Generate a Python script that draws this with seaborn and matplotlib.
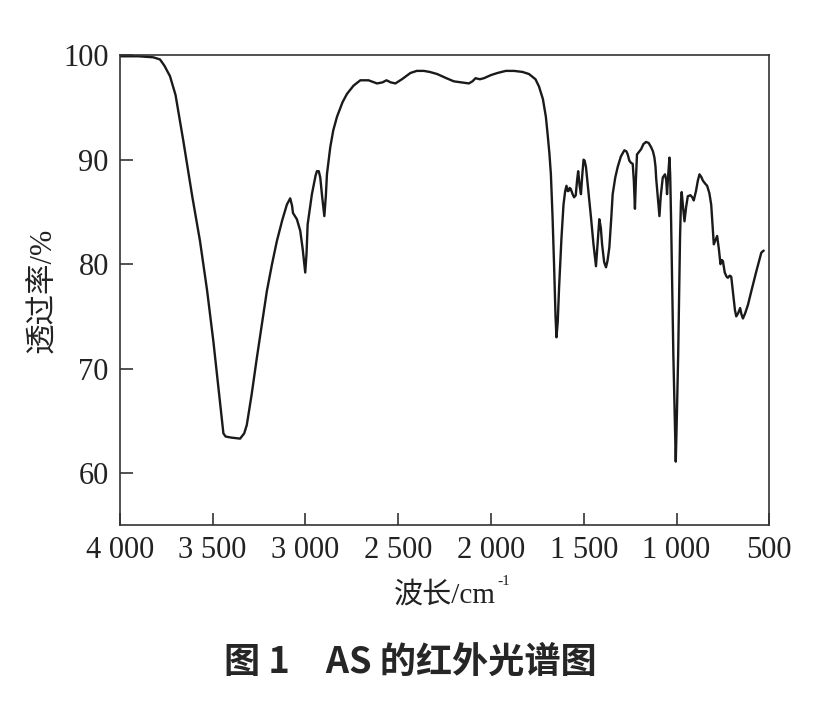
import numpy as np
import pandas as pd
import matplotlib.pyplot as plt
import seaborn as sns

# IR spectrum: wavenumber (cm-1) and transmittance (%)
wavenumber = [
    4000, 3900, 3820, 3784, 3760, 3730, 3700, 3658, 3610, 3568, 3530, 3496, 3465, 3442,
    3430, 3400, 3352, 3330, 3316, 3290, 3262, 3230, 3208, 3180, 3154, 3125, 3100, 3082,
    3072, 3067, 3046, 3028, 3015, 3001, 2994, 2988, 2965, 2945, 2938, 2928, 2920, 2910,
    2898, 2890, 2884, 2866, 2850, 2830, 2800, 2776, 2740, 2704, 2660, 2614, 2585, 2563,
    2540, 2515, 2480, 2434, 2400, 2362, 2330, 2290, 2240, 2200, 2160, 2119, 2100, 2083,
    2060, 2038, 2000, 1965, 1920, 1876, 1830, 1795, 1760, 1741, 1720, 1704, 1695, 1685,
    1677, 1668, 1660, 1652, 1647, 1640, 1633, 1620, 1609, 1600, 1593, 1587, 1582, 1576,
    1570, 1560, 1552, 1543, 1536, 1530, 1522, 1515, 1508, 1501, 1495, 1488, 1475, 1461,
    1448, 1434, 1425, 1416, 1408, 1401, 1390, 1380, 1372, 1362, 1352, 1344, 1330, 1317,
    1300, 1281, 1270, 1263, 1254, 1245, 1236, 1230, 1224, 1219, 1213, 1200, 1191, 1178,
    1164, 1150, 1137, 1127, 1119, 1113, 1110, 1100, 1092, 1085, 1074, 1062, 1055, 1051,
    1045, 1038, 1034, 1029, 1023, 1017, 1010, 1004, 998, 991, 985, 981, 976, 972,
    965, 957, 948, 939, 925, 915, 907, 895, 885, 876, 865, 858, 845, 835,
    823, 813, 806, 799, 790, 781, 772, 763, 756, 750, 740, 730, 723, 713,
    705, 695, 685, 678, 668, 657, 650, 642, 630, 615, 597, 570, 543, 530,
]
transmittance = [
    99.9, 99.9, 99.8, 99.6, 99.0, 98.0, 96.2, 91.8, 86.5, 82.2, 77.5, 72.6, 67.5, 63.8,
    63.5, 63.4, 63.3, 63.8, 64.6, 67.5, 71.0, 74.8, 77.4, 80.0, 82.2, 84.2, 85.7, 86.3,
    85.6, 84.9, 84.3, 83.2, 81.5, 79.2, 81.0, 83.8, 86.7, 88.5, 88.9, 88.9, 88.3, 86.5,
    84.6, 86.5, 88.6, 91.2, 92.8, 94.1, 95.5, 96.3, 97.1, 97.6, 97.6, 97.3, 97.4, 97.6,
    97.4, 97.3, 97.7, 98.3, 98.5, 98.5, 98.4, 98.2, 97.8, 97.5, 97.4, 97.3, 97.5, 97.8,
    97.7, 97.8, 98.1, 98.3, 98.5, 98.5, 98.4, 98.2, 97.7, 97.0, 95.8, 94.1, 92.5, 90.6,
    88.6, 84.5, 80.0, 75.0, 73.0, 74.5, 77.7, 82.5, 85.7, 87.0, 87.5, 87.0, 87.0, 87.3,
    87.2, 86.7, 86.4, 86.6, 88.0, 88.9, 87.5, 86.7, 88.5, 90.0, 89.9, 89.3, 87.0, 84.5,
    82.0, 79.8, 82.0, 84.3, 83.5, 81.9, 80.2, 79.7, 80.3, 81.6, 84.3, 86.7, 88.3, 89.3,
    90.3, 90.9, 90.8, 90.5, 89.9, 89.7, 89.6, 88.0, 85.3, 88.0, 90.5, 90.8, 91.0, 91.5,
    91.7, 91.6, 91.2, 90.8, 90.2, 89.3, 88.3, 86.3, 84.6, 86.5, 88.3, 88.6, 88.0, 86.7,
    88.5, 90.2, 88.5, 84.1, 78.0, 71.3, 66.0, 61.1, 65.5, 71.3, 78.0, 82.5, 86.0, 86.9,
    85.5, 84.1, 85.5, 86.5, 86.6, 86.4, 86.1, 87.0, 88.0, 88.6, 88.3, 88.0, 87.7, 87.5,
    86.8, 85.7, 83.8, 81.9, 82.3, 82.7, 81.5, 80.0, 80.4, 80.3, 79.2, 78.8, 78.7, 78.9,
    78.8, 77.2, 75.6, 75.0, 75.3, 75.8, 75.2, 74.8, 75.3, 76.1, 77.4, 79.3, 81.1, 81.3,
]

x_ticks = [4000, 3500, 3000, 2500, 2000, 1500, 1000, 500]
x_tick_labels = ['4 000', '3 500', '3 000', '2 500', '2 000', '1 500', '1 000', '500']
y_ticks = [60, 70, 80, 90, 100]

df = pd.DataFrame({'wavenumber': wavenumber, 'transmittance': transmittance})

sns.set_style('ticks')
plt.rcParams['font.family'] = ['Liberation Serif', 'Noto Sans CJK SC', 'DejaVu Sans']

fig = plt.figure(figsize=(8.21, 7.08), dpi=100)
ax = fig.add_axes([0.146, 0.258, 0.791, 0.664])

sns.lineplot(data=df, x='wavenumber', y='transmittance', sort=False,
             color='#1a1a1a', linewidth=1.7, ax=ax)

ax.set_xlim(4000, 500)
ax.set_ylim(55, 100)
ax.set_xticks(x_ticks)
ax.set_xticklabels(x_tick_labels)
ax.set_yticks(y_ticks)
ax.tick_params(direction='in', length=9, width=1.1, labelsize=22, colors='#222222', pad=8)

for side in ['top', 'right', 'bottom', 'left']:
    ax.spines[side].set_visible(True)
    ax.spines[side].set_linewidth(1.2)
    ax.spines[side].set_color('#333333')

# x label with a separate superscript so the CJK glyphs keep their font
ax.set_xlabel('波长/cm', fontsize=21, labelpad=12, color='#222222')
ax.annotate('-1', xy=(1, 1), xycoords=ax.xaxis.label, xytext=(1, 5),
            textcoords='offset points', ha='left', va='top', fontsize=11,
            color='#222222')
ax.set_ylabel('透过率/%', fontsize=22, labelpad=4, color='#222222')

fig.text(0.5, 1 - 662 / 708, '图 1　AS 的红外光谱图', ha='center', va='center',
         fontsize=26, fontweight='bold', family=['Noto Sans CJK SC', 'DejaVu Sans'])

plt.savefig('out.png', dpi=100)
plt.close()
